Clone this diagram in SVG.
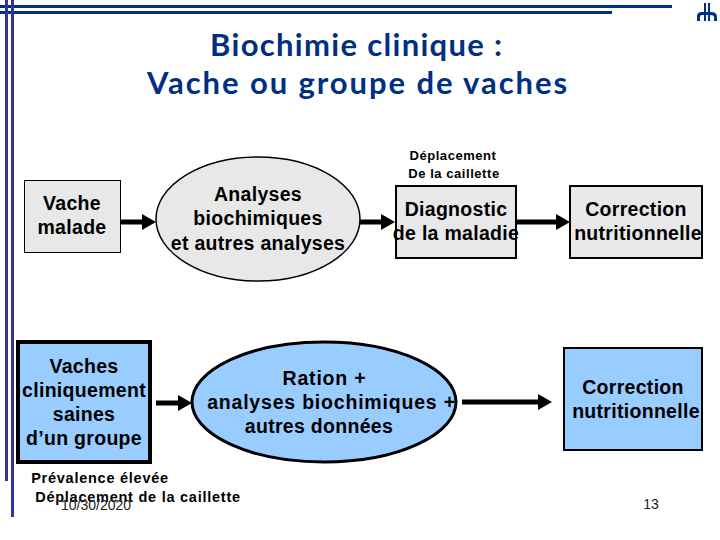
<svg xmlns="http://www.w3.org/2000/svg" width="720" height="540" viewBox="0 0 720 540">
<style>
text{font-family:"Liberation Sans",Arial,sans-serif;fill:#000;text-anchor:middle}
.t{font-family:"Lato",sans-serif;font-size:31px;font-weight:700;fill:#003082;text-anchor:start}
.l{font-size:19.500px;font-weight:700;letter-spacing:.3px}
.w{letter-spacing:.8px}
.s{font-size:13px;font-weight:700;letter-spacing:.55px}
.n{font-size:14.500px;font-weight:700;letter-spacing:.75px}
.f{font-size:14px;fill:#222}
.g{fill:#e8e8e8;stroke:#000}
.b{fill:#99ccff;stroke:#000}
.c{stroke:#000;stroke-width:5;fill:none;marker-end:url(#a)}
.h{fill:#003082}.v{fill:#333399}
</style>
<defs><marker id="a" markerUnits="userSpaceOnUse" markerWidth="16" markerHeight="16" refX="0" refY="8" orient="auto"><path d="M0 0L14 8L0 16Z" fill="#000"/></marker></defs>
<g id="decor">
<rect class="h" x="0" y="5" width="672" height="3"/>
<rect class="h" x="0" y="11" width="612" height="3"/>
<rect class="v" x="5" y="0" width="3" height="481"/>
<rect class="v" x="11" y="0" width="3" height="517"/>
<path d="M697 21V16Q697 12 702 12H704V3H706V12H708V3H710V12H711Q717 12 717 17V21H714V17Q714 15 710 15V21H708V15H706V21H704V15H702Q700 15 700 17V21Z" fill="#003082"/>
</g>
<g id="title">
<text class="t" x="210" y="56" textLength="292" lengthAdjust="spacing">Biochimie clinique :</text>
<text class="t" x="147" y="94" textLength="420" lengthAdjust="spacing">Vache ou groupe de vaches</text>
</g>
<g id="connectors">
<path class="c" d="M120 222H142"/>
<path class="c" d="M360 222H381"/>
<path class="c" d="M516 222H556"/>
<path class="c" d="M156 403H178"/>
<path class="c" d="M462 402H538"/>
</g>
<g id="n1"><rect class="g" x="24.500" y="180.500" width="96" height="72"/>
<text class="l" x="72" y="210">Vache</text><text class="l" x="72" y="234">malade</text></g>
<g id="n2"><ellipse class="g" cx="258" cy="219" rx="102" ry="62" stroke-width="1.500"/>
<text class="l" x="258" y="201">Analyses</text><text class="l" x="258" y="225">biochimiques</text><text class="l" x="258" y="250">et autres analyses</text></g>
<g id="n3"><rect class="g" x="396" y="186" width="120" height="72" stroke-width="2"/>
<text class="l" x="456" y="216">Diagnostic</text><text class="l" x="456" y="240">de la maladie</text></g>
<g id="n3-note"><text class="s" x="453" y="160">Déplacement</text><text class="s" x="454" y="178">De la caillette</text></g>
<g id="n4"><rect class="g" x="570" y="186" width="132" height="72" stroke-width="2"/>
<text class="l" x="636" y="216">Correction</text><text class="l" x="638" y="240">nutritionnelle</text></g>
<g id="n5"><rect class="b" x="18" y="342" width="132" height="120" stroke-width="4"/>
<text class="l" x="84" y="373">Vaches</text><text class="l" x="84" y="397">cliniquement</text><text class="l" x="84" y="421">saines</text><text class="l" x="84" y="445">d’un groupe</text></g>
<g id="n6"><ellipse class="b" cx="324" cy="402" rx="132" ry="60" stroke-width="3"/>
<text class="l w" x="324.500" y="385">Ration  +</text><text class="l w" x="331.500" y="409">analyses biochimiques +</text><text class="l" x="319" y="433">autres données</text></g>
<g id="n7"><rect class="b" x="564" y="348" width="138" height="102" stroke-width="2"/>
<text class="l" x="633" y="394">Correction</text><text class="l" x="636" y="418">nutritionnelle</text></g>
<g id="note"><text class="n" x="100" y="483">Prévalence élevée</text><text class="n" x="138" y="502">Déplacement de la caillette</text></g>
<g id="footer"><text class="f" x="96" y="510">10/30/2020</text><text class="f" x="651" y="509">13</text></g>
</svg>
